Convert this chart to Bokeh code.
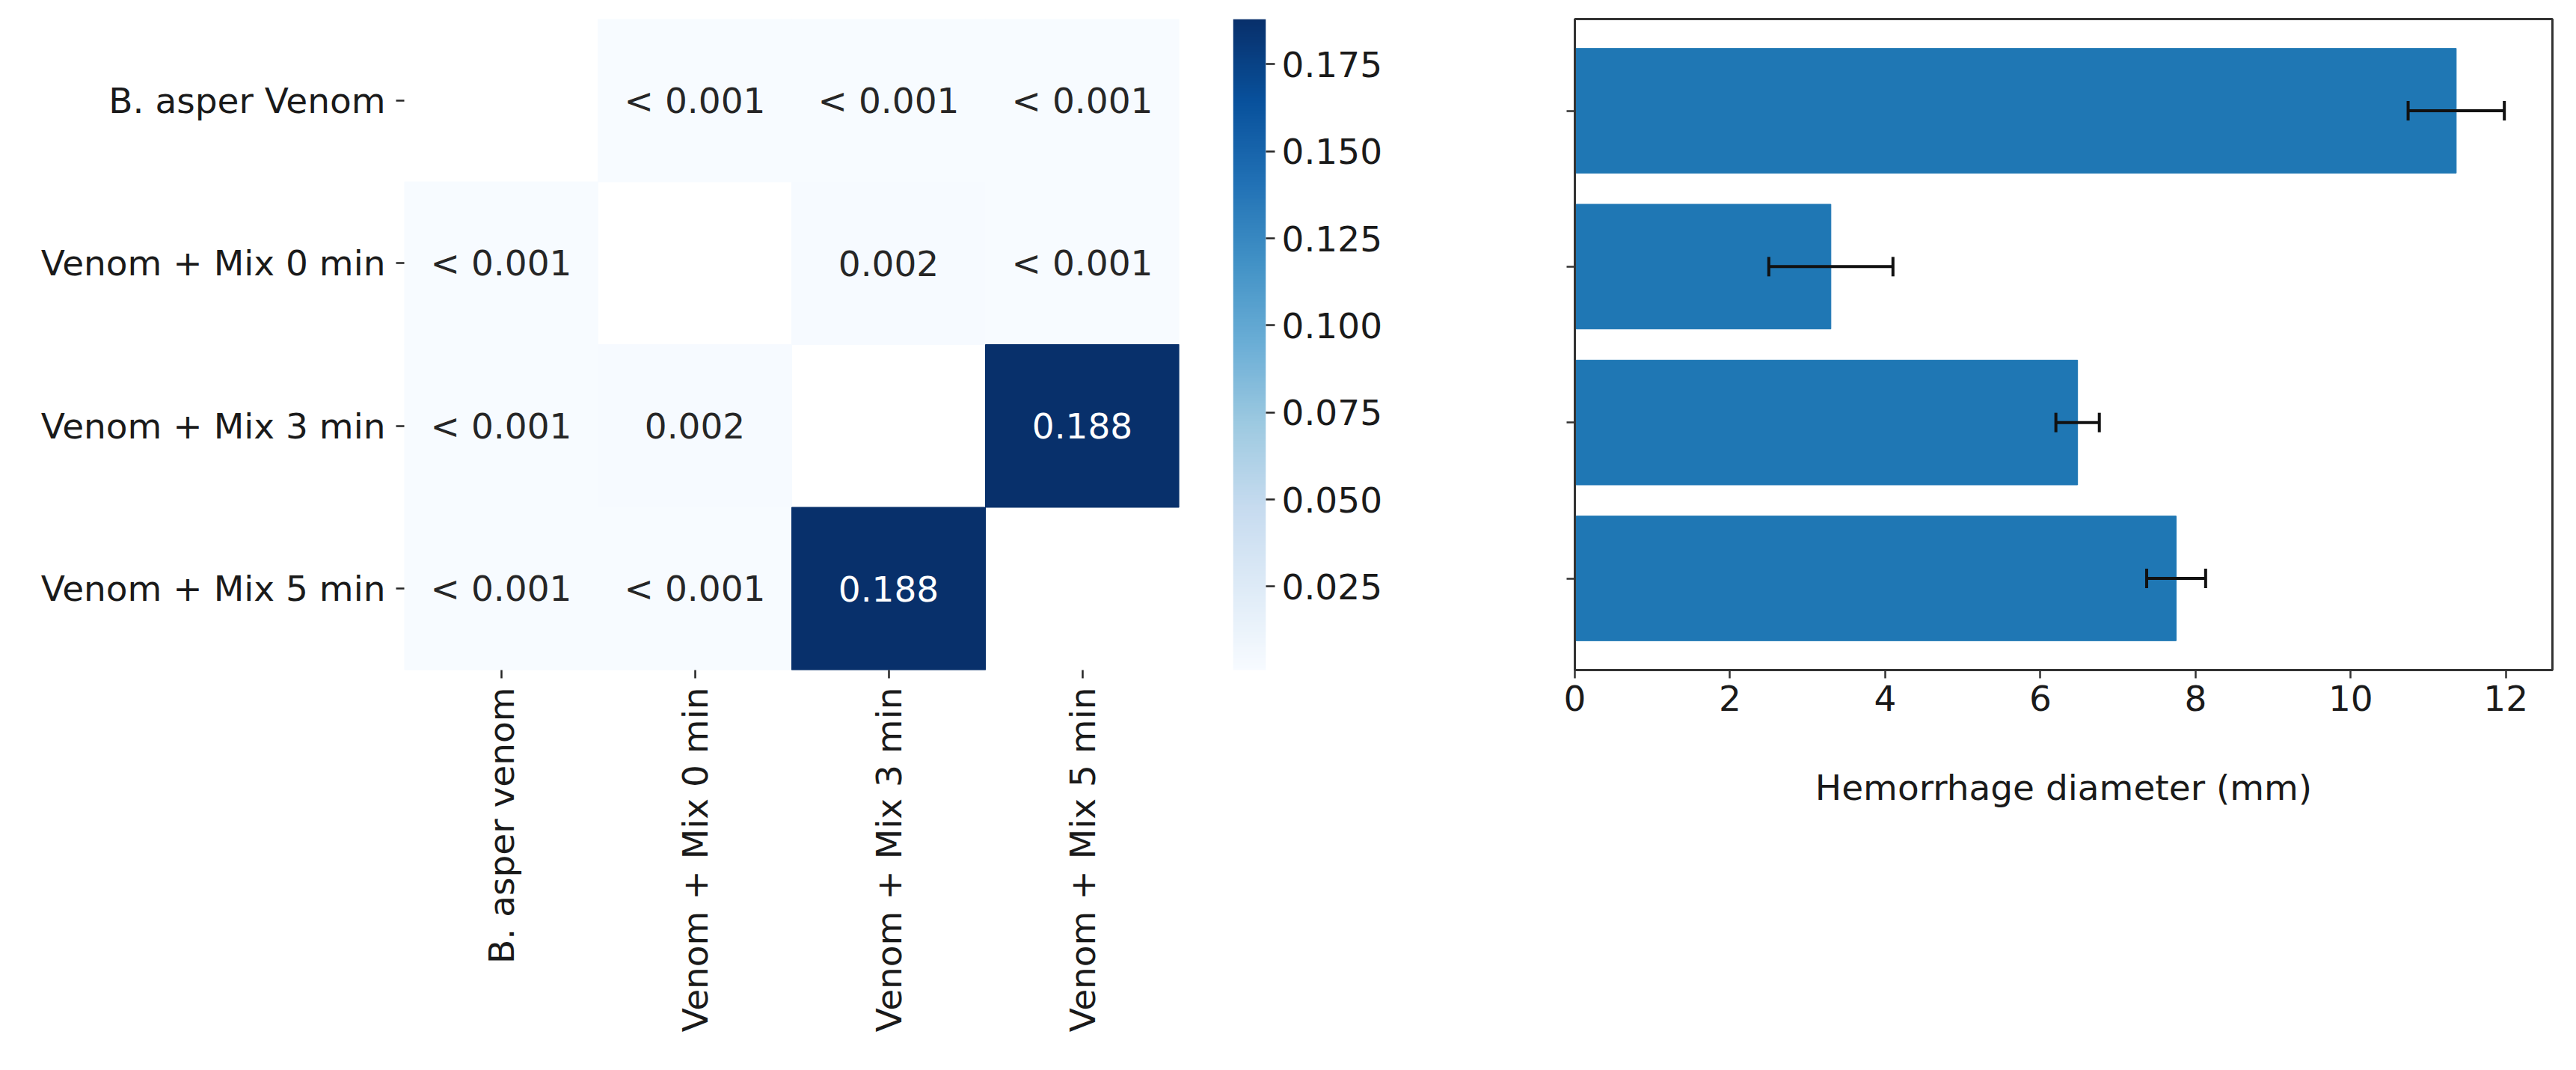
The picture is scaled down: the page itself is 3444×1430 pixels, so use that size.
import math
import numpy as np
from bokeh.plotting import figure
from bokeh.models import (FactorRange, Range1d, LinearColorMapper, ColumnDataSource,
                          FixedTicker, Whisker, TeeHead, NumeralTickFormatter)
from bokeh.layouts import row
from bokeh.palettes import Blues256
from bokeh.transform import transform
from bokeh.core.properties import value
from bokeh.embed import file_html
from bokeh.resources import INLINE

# ---------------- data ----------------
col_groups = ["B. asper venom", "Venom + Mix 0 min", "Venom + Mix 3 min", "Venom + Mix 5 min"]
row_groups = ["B. asper Venom", "Venom + Mix 0 min", "Venom + Mix 3 min", "Venom + Mix 5 min"]
p_values = [
    [None, 0.001, 0.001, 0.001],
    [0.001, None, 0.002, 0.001],
    [0.001, 0.002, None, 0.188],
    [0.001, 0.001, 0.188, None],
]
p_labels = [
    ["", "< 0.001", "< 0.001", "< 0.001"],
    ["< 0.001", "", "0.002", "< 0.001"],
    ["< 0.001", "0.002", "", "0.188"],
    ["< 0.001", "< 0.001", "0.188", ""],
]
bar_groups = ["B. asper Venom", "Venom + Mix 0 min", "Venom + Mix 3 min", "Venom + Mix 5 min"]
diameter_mean = [11.36, 3.30, 6.48, 7.75]
diameter_err = [0.62, 0.80, 0.28, 0.38]
x_ticks = [0, 2, 4, 6, 8, 10, 12]
cbar_ticks = [0.025, 0.050, 0.075, 0.100, 0.125, 0.150, 0.175]

FONT = "DejaVu Sans"
FS = "47px"
H = 1410
TXT = "#1a1a1a"
AXC = "#333333"

# palette light -> dark
def _lum(h):
    h = h.lstrip("#")
    return sum(int(h[i:i + 2], 16) for i in (0, 2, 4))
pal = list(Blues256)
if _lum(pal[0]) < _lum(pal[-1]):
    pal = pal[::-1]

vals_flat = [v for r in p_values for v in r if v is not None]
vmin, vmax = min(vals_flat), max(vals_flat)
mapper = LinearColorMapper(palette=pal, low=vmin, high=vmax)

# ---------------- heatmap ----------------
xs, ys, vs, labs, tcol = [], [], [], [], []
for i, rname in enumerate(row_groups):
    for j, cname in enumerate(col_groups):
        v = p_values[i][j]
        if v is None:
            continue
        xs.append(cname)
        ys.append(rname)
        vs.append(v)
        labs.append(p_labels[i][j])
        tcol.append("white" if v > (vmin + vmax) / 2 else "#262626")
hsrc = ColumnDataSource(dict(x=xs, y=ys, v=vs, lab=labs, tc=tcol))

W1 = 1632
p1 = figure(width=W1, height=H, title=None, toolbar_location=None, output_backend="svg",
            x_range=FactorRange(factors=col_groups, range_padding=0),
            y_range=FactorRange(factors=row_groups[::-1], range_padding=0),
            min_border_left=540, min_border_right=W1 - 1576, min_border_top=25,
            min_border_bottom=H + 8 - 903)
p1.rect(x="x", y="y", width=1, height=1, source=hsrc,
        fill_color=transform("v", mapper), line_color=transform("v", mapper), line_width=1)
p1.text(x="x", y="y", text="lab", source=hsrc, text_align="center", text_baseline="middle",
        text_font=value(FONT), text_font_size=FS, text_color="tc")
p1.outline_line_color = None
p1.grid.visible = False
for ax in (p1.xaxis[0], p1.yaxis[0]):
    ax.axis_line_color = None
    ax.major_tick_line_color = "#262626"
    ax.major_tick_line_width = 2.5
    ax.major_tick_out = 11
    ax.major_tick_in = 0
    ax.minor_tick_line_color = None
    ax.major_label_text_font = FONT
    ax.major_label_text_font_size = FS
    ax.major_label_text_color = TXT
p1.xaxis.major_label_orientation = math.pi / 2
p1.xaxis.major_label_standoff = 12
p1.yaxis.major_label_standoff = 14

# ---------------- colorbar ----------------
grad = np.linspace(vmin, vmax, 256).reshape(-1, 1)
W2 = 320
p2 = figure(width=W2, height=H, title=None, toolbar_location=None, output_backend="svg",
            x_range=Range1d(0, 1), y_range=Range1d(vmin, vmax), y_axis_location="right",
            min_border_left=16, min_border_right=W2 - 16 - 44, min_border_top=24,
            min_border_bottom=H + 8 - 905)
p2.image(image=[grad], x=0, y=vmin, dw=1, dh=vmax - vmin, color_mapper=mapper)
p2.outline_line_color = None
p2.grid.visible = False
p2.xaxis.visible = False
ya = p2.yaxis[0]
ya.ticker = FixedTicker(ticks=cbar_ticks)
ya.formatter = NumeralTickFormatter(format="0.000")
ya.axis_line_color = None
ya.major_tick_line_color = "#262626"
ya.major_tick_line_width = 2.5
ya.major_tick_out = 12
ya.major_tick_in = 0
ya.minor_tick_line_color = None
ya.major_label_text_font = FONT
ya.major_label_text_font_size = FS
ya.major_label_text_color = TXT
ya.major_label_standoff = 9

# ---------------- bar chart ----------------
bsrc = ColumnDataSource(dict(
    cat=bar_groups, mean=diameter_mean,
    lo=[m - e for m, e in zip(diameter_mean, diameter_err)],
    hi=[m + e for m, e in zip(diameter_mean, diameter_err)],
))
W3 = 1476
p3 = figure(width=W3, height=H, title=None, toolbar_location=None, output_backend="svg",
            y_range=FactorRange(factors=bar_groups[::-1], range_padding=0.044),
            x_range=Range1d(0, 12.6),
            min_border_left=153, min_border_right=16, min_border_top=24,
            min_border_bottom=H + 8 - 907)
p3.hbar(y="cat", left=0, right="mean", height=0.8, source=bsrc, fill_color="#1f77b4", line_color="#1f77b4")
wh = Whisker(source=bsrc, base="cat", lower="lo", upper="hi", dimension="width",
             line_color="#111111", line_width=4, level="overlay",
             upper_head=TeeHead(size=26, line_width=4, line_color="#111111"),
             lower_head=TeeHead(size=26, line_width=4, line_color="#111111"))
p3.add_layout(wh)
p3.grid.visible = False
p3.outline_line_color = AXC
p3.outline_line_width = 3
for ax in (p3.xaxis[0], p3.yaxis[0]):
    ax.axis_line_color = AXC
    ax.axis_line_width = 3
    ax.major_tick_line_color = AXC
    ax.major_tick_line_width = 2.5
    ax.major_tick_out = 11
    ax.major_tick_in = 0
    ax.minor_tick_line_color = None
    ax.major_label_text_font = FONT
    ax.major_label_text_font_size = FS
    ax.major_label_text_color = TXT
p3.yaxis.major_label_overrides = {c: "" for c in bar_groups}
p3.yaxis.major_label_text_color = None
p3.xaxis.ticker = FixedTicker(ticks=x_ticks)
p3.xaxis.major_label_standoff = 9
p3.xaxis.axis_label = "Hemorrhage diameter (mm)"
p3.xaxis.axis_label_text_font = FONT
p3.xaxis.axis_label_text_font_size = FS
p3.xaxis.axis_label_text_font_style = "normal"
p3.xaxis.axis_label_text_color = TXT
p3.xaxis.axis_label_standoff = 72

layout = row(p1, p2, p3)
open("out.html", "w").write(file_html(layout, INLINE))
